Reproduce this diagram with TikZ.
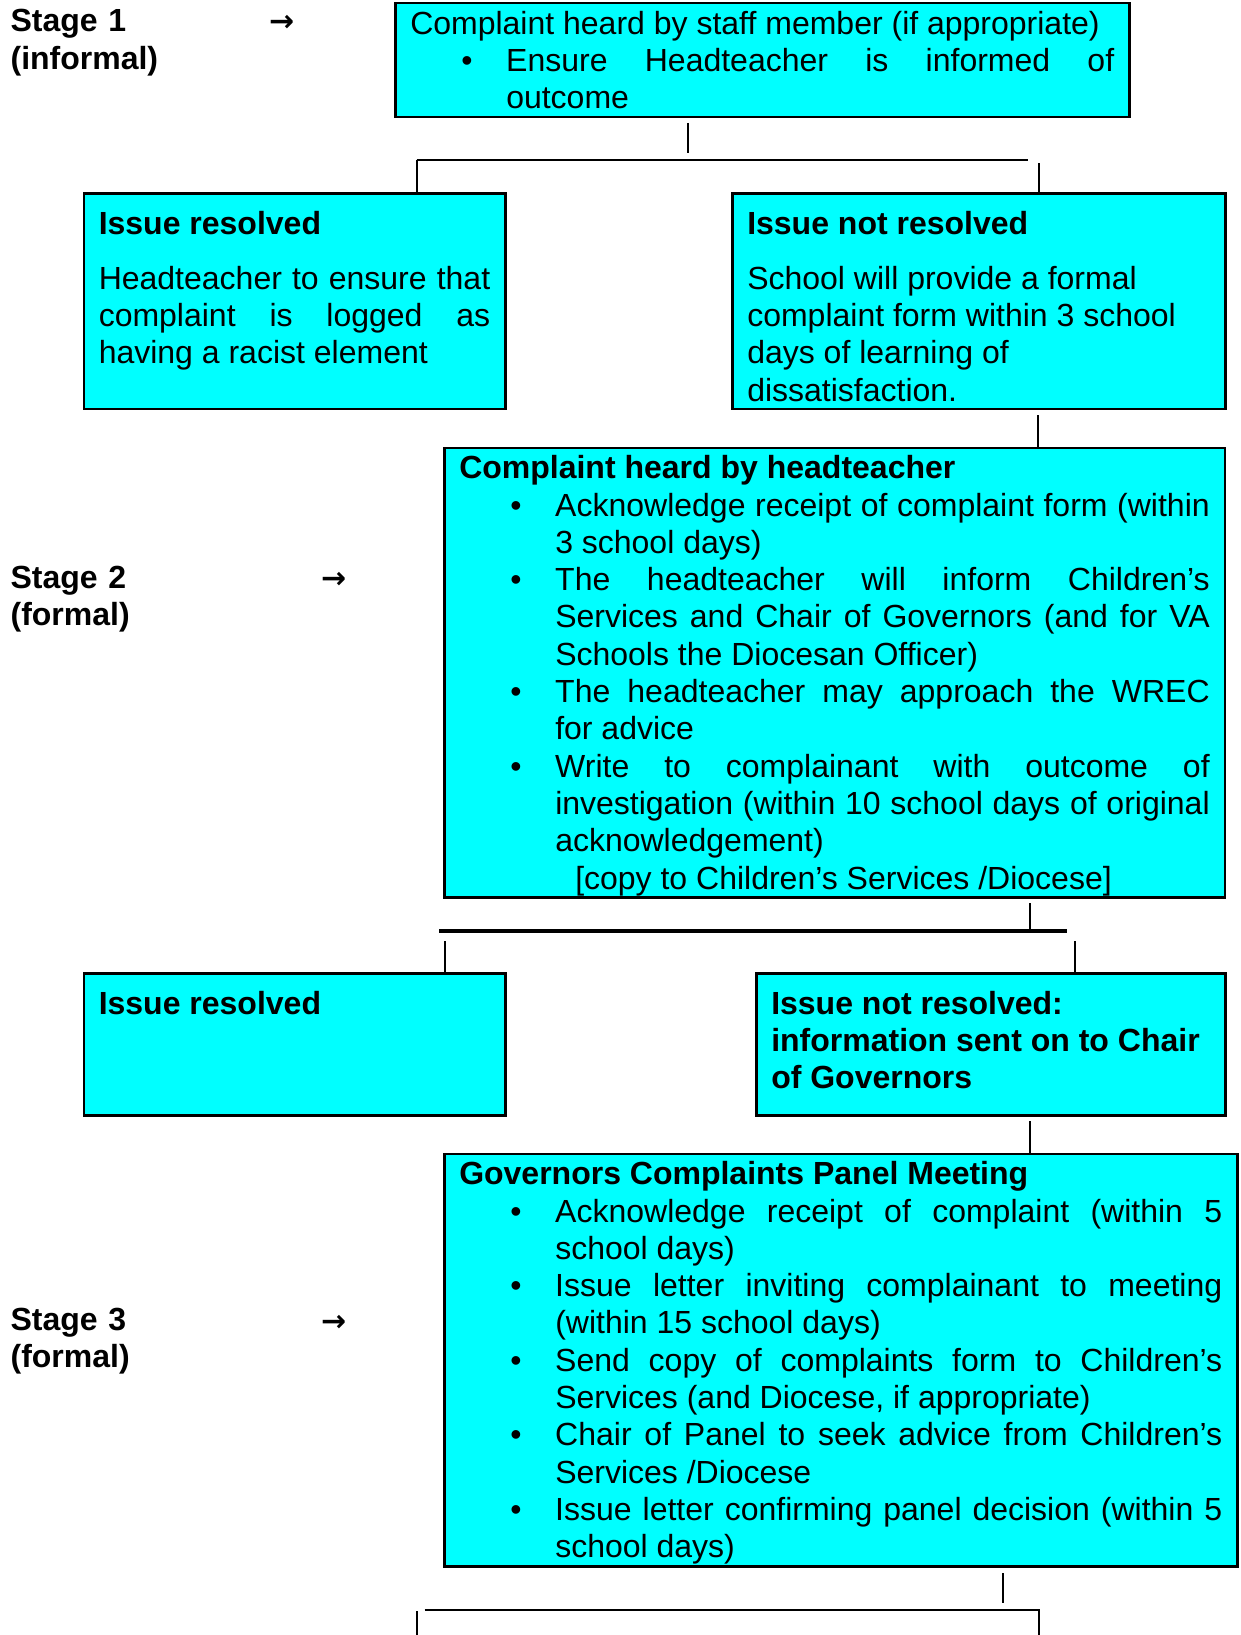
\documentclass[tikz,border=0pt]{standalone}
\usepackage{fontspec}
\setmainfont{Liberation Sans}
\newfontfamily\arrowfont{DejaVu Sans}
\usetikzlibrary{calc}
\definecolor{boxcyan}{RGB}{0,255,255}
\hyphenpenalty=10000
\tolerance=9999
\newcommand{\bitem}{\par\hangindent=96pt\hangafter=1\noindent\makebox[96pt][l]{\hspace{51pt}\textbullet}}

\begin{document}
\begin{tikzpicture}[x=1pt, y=-1pt,
  font=\fontsize{32}{37.3}\selectfont,
  box/.style={draw, line width=2.5pt, fill=boxcyan, anchor=north west, inner xsep=15pt, inner ysep=0pt, text height=31pt},
  stagelbl/.style={anchor=base west, inner sep=0pt, text width=200pt, align=left, font=\fontsize{32}{37.3}\selectfont\bfseries},
  stagearr/.style={inner sep=0pt, font=\fontsize{30}{37.3}\arrowfont\bfseries},
  conn/.style={line width=2pt}]
          \useasboundingbox (0,0) rectangle (1240,1635);

          \node[stagelbl] (stage1) at (10.4,32) {Stage 1\\(informal)}; % stage labels
          \node[stagearr] (arr1) at (281.6,23) {→};
          \node[stagelbl] (stage2) at (10.4,588) {Stage 2\\(formal)};
          \node[stagearr] (arr2) at (333.7,580) {→};
          \node[stagelbl] (stage3) at (10.4,1330.5) {Stage 3\\(formal)};
          \node[stagearr] (arr3) at (333.7,1323) {→};

          \node[box, text depth=83pt] (stage1box) at (394,2) {\begin{minipage}[t]{704pt}
            Complaint heard by staff member (if appropriate)
            \bitem Ensure Headteacher is informed of\linebreak outcome
          \end{minipage}}; % informal step

          \node[box, text height=41pt, text depth=174.5pt] (res1) at (82.5,192) {\begin{minipage}[t]{391.5pt}
            \textbf{Issue resolved}\par\vspace{17.7pt}
            Headteacher to ensure that\linebreak complaint is logged as\linebreak having a racist element
          \end{minipage}};
          \node[box, text height=41pt, text depth=174.5pt] (nres1) at (731,192) {\begin{minipage}[t]{463pt}\raggedright
            \textbf{Issue not resolved}\par\vspace{17.7pt}
            School will provide a formal\\ complaint form within 3 school\\ days of learning of\\ dissatisfaction.
          \end{minipage}};

          \node[box, text depth=418.5pt] (stage2box) at (443,446.5) {\begin{minipage}[t]{750.5pt}
            \textbf{Complaint heard by headteacher}
            \bitem Acknowledge receipt of complaint form (within\linebreak 3 school days)
            \bitem The headteacher will inform Children's\linebreak Services and Chair of Governors (and for VA\linebreak Schools the Diocesan Officer)
            \bitem The headteacher may approach the WREC\linebreak for advice
            \bitem Write to complainant with outcome of\linebreak investigation (within 10 school days of original\linebreak acknowledgement)\newline\hspace*{20pt}[copy to Children's Services /Diocese]
          \end{minipage}}; % formal step

          \node[box, text height=41pt, text depth=101pt] (res2) at (82.5,972) {\begin{minipage}[t]{391.5pt}
            \textbf{Issue resolved}
          \end{minipage}};
          \node[box, text height=41pt, text depth=101pt] (nres2) at (755,972) {\begin{minipage}[t]{439pt}\raggedright
            \textbf{Issue not resolved:\\ information sent on to Chair\\ of Governors}
          \end{minipage}};

          \node[box, text depth=381.5pt] (stage3box) at (443,1152.5) {\begin{minipage}[t]{763pt}
            \textbf{Governors Complaints Panel Meeting}
            \bitem Acknowledge receipt of complaint (within 5\linebreak school days)
            \bitem Issue letter inviting complainant to meeting\linebreak (within 15 school days)
            \bitem Send copy of complaints form to Children's\linebreak Services (and Diocese, if appropriate)
            \bitem Chair of Panel to seek advice from Children's\linebreak Services /Diocese
            \bitem Issue letter confirming panel decision (within 5\linebreak school days)
          \end{minipage}}; % panel step

          \coordinate (bot) at (0,1635);

          % split below stage 1
          \coordinate (s1) at (687.5,123);
          \coordinate (s1b) at (687.5,153);
          \coordinate (h1l) at (416.5,159.5);
          \coordinate (h1r) at (1028,159.5);
          \coordinate (d1r) at (1038.5,163);
          \draw[conn] (s1) -- (s1b);
          \draw[conn] (h1l) -- (h1r);
          \draw[conn] (h1l) -- (h1l |- res1.north);
          \draw[conn] (d1r) -- (d1r |- nres1.north);

          \coordinate (s2) at (1038,415);
          \draw[conn] (s2) -- (s2 |- stage2box.north);

          % split below stage 2
          \coordinate (s3) at (1030,903);
          \coordinate (s3b) at (1030,933);
          \coordinate (h2l) at (439,931);
          \coordinate (h2r) at (1067,931);
          \coordinate (d2l) at (445,941);
          \coordinate (d2r) at (1075,941);
          \draw[conn] (s3) -- (s3b);
          \draw[conn, line width=3.5pt] (h2l) -- (h2r);
          \draw[conn] (d2l) -- (d2l |- res2.north);
          \draw[conn] (d2r) -- (d2r |- nres2.north);

          \coordinate (s4) at (1029.5,1121);
          \draw[conn] (s4) -- (s4 |- stage3box.north);

          % split below stage 3
          \coordinate (s5) at (1002.5,1573);
          \coordinate (s5b) at (1002.5,1603);
          \coordinate (h3l) at (424.6,1609.5);
          \coordinate (h3r) at (1038.5,1609.5);
          \coordinate (d3l) at (417,1611);
          \draw[conn] (s5) -- (s5b);
          \draw[conn] (h3l) -- (h3r) -- (h3r |- bot);
          \draw[conn] (d3l) -- (d3l |- bot);
        \end{tikzpicture}
\end{document}
